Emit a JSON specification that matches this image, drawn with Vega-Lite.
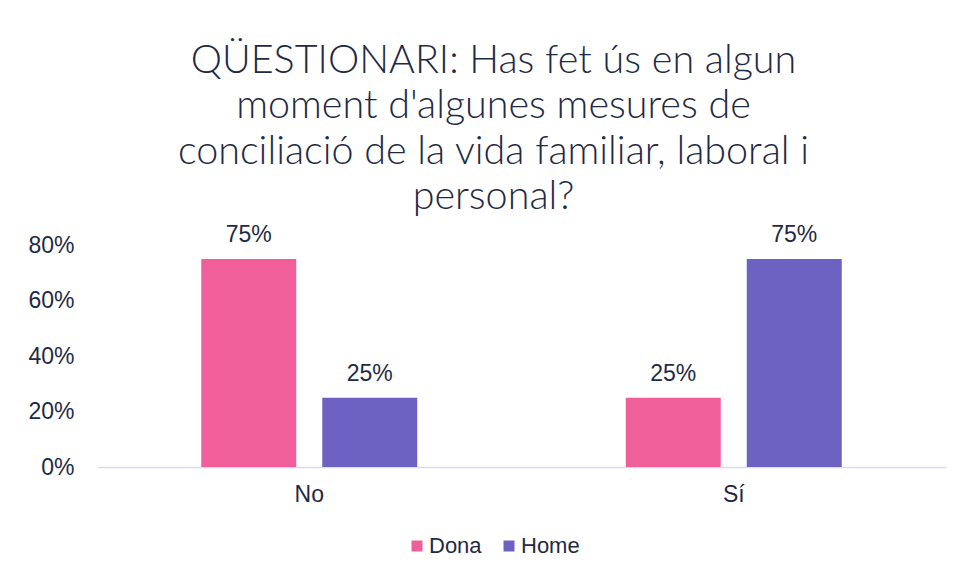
{
  "$schema": "https://vega.github.io/schema/vega-lite/v6.json",
  "autosize": {"type": "none"},
  "width": 849,
  "height": 222,
  "padding": {"left": 97, "top": 245, "right": 18, "bottom": 111},
  "background": "white",
  "config": {"view": {"stroke": null}},
  "title": {
    "text": ["QÜESTIONARI: Has fet ús en algun", "moment d'algunes mesures de", "conciliació de la vida familiar, laboral i", "personal?"],
    "anchor": "middle",
    "frame": "group",
    "dx": -28,
    "dy": 5,
    "offset": 11,
    "font": "Lato",
    "fontWeight": 300,
    "fontSize": 39.5,
    "lineHeight": 45.5,
    "color": "#1F2A44"
  },
  "data": {
    "values": [
      {"resposta": "No", "genere": "Dona", "valor": 0.75},
      {"resposta": "No", "genere": "Home", "valor": 0.25},
      {"resposta": "Sí", "genere": "Dona", "valor": 0.25},
      {"resposta": "Sí", "genere": "Home", "valor": 0.75}
    ]
  },
  "encoding": {
    "x": {
      "field": "resposta", "type": "nominal", "sort": ["No", "Sí"],
      "scale": {"paddingInner": 0, "paddingOuter": 0},
      "axis": {"title": null, "labelAngle": 0, "ticks": false, "domainColor": "#D6DEEF", "domainWidth": 1.5, "labelFont": "Liberation Sans", "labelFontSize": 23, "labelColor": "#1F2A44", "labelPadding": 16}
    },
    "xOffset": {
      "field": "genere", "type": "nominal", "sort": ["Dona", "Home"],
      "scale": {"paddingInner": 0.2149, "paddingOuter": 0.8616}
    },
    "y": {
      "field": "valor", "type": "quantitative",
      "scale": {"domain": [0, 0.8]},
      "axis": {"title": null, "values": [0, 0.2, 0.4, 0.6, 0.8], "format": ".0%", "grid": false, "domain": false, "ticks": false, "labelFont": "Liberation Sans", "labelFontSize": 23, "labelColor": "#1F2A44", "labelPadding": 23}
    }
  },
  "layer": [
    {
      "mark": {"type": "bar"},
      "encoding": {
        "color": {
          "field": "genere", "type": "nominal",
          "scale": {"domain": ["Dona", "Home"], "range": ["#F15F9B", "#6D62C2"]},
          "legend": {
            "title": null, "orient": "none", "direction": "horizontal",
            "legendX": 309, "legendY": 290,
            "symbolType": "square", "symbolSize": 121, "symbolStrokeWidth": 0,
            "labelFont": "Liberation Sans", "labelFontSize": 22, "labelColor": "#1F2A44",
            "labelOffset": 1, "columnPadding": 16
          }
        }
      }
    },
    {
      "mark": {"type": "text", "baseline": "bottom", "dy": -12, "font": "Liberation Sans", "fontSize": 23, "color": "#1F2A44"},
      "encoding": {
        "text": {"field": "valor", "type": "quantitative", "format": ".0%"}
      }
    }
  ]
}
